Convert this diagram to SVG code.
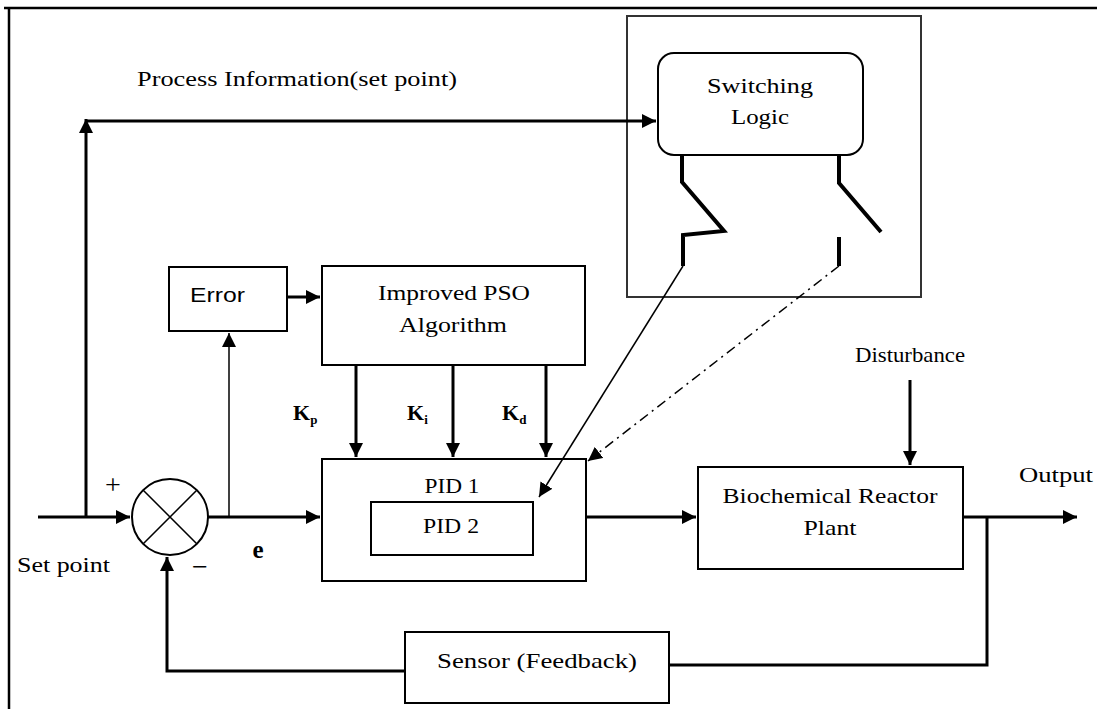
<svg xmlns="http://www.w3.org/2000/svg" width="1097" height="709" viewBox="0 0 1097 709">
<defs>
<style>
.t{font-family:"Liberation Serif","Times New Roman",serif;font-size:22px;fill:#000}
.b{fill:#fff;stroke:#000;stroke-width:2}
.c{fill:none;stroke:#000;stroke-width:3}
.thin{fill:none;stroke:#000;stroke-width:1.5}
.sw{fill:none;stroke:#000;stroke-width:4}
</style>
<marker id="ah" viewBox="0 0 10 10" refX="10" refY="5" markerWidth="14" markerHeight="14" markerUnits="userSpaceOnUse" orient="auto">
<path d="M0,0 L10,5 L0,10 z" fill="#000"/>
</marker>
</defs>
<rect width="1097" height="709" fill="#fff"/>
<!-- frame -->
<path d="M4,8 H1097 M9,8 V709" fill="none" stroke="#000" stroke-width="2.5"/>

<g id="switch-box">
<rect x="627" y="16" width="294" height="281" fill="none" stroke="#333" stroke-width="2"/>
</g>
<g id="switching-logic">
<rect x="658" y="53" width="205" height="102" rx="16" class="b" stroke="#333"/>
<text class="t" x="760" y="93" text-anchor="middle" textLength="106" lengthAdjust="spacingAndGlyphs">Switching</text>
<text class="t" x="760" y="124" text-anchor="middle" textLength="58" lengthAdjust="spacingAndGlyphs">Logic</text>
</g>
<g id="switches">
<path class="sw" d="M682,155 V182 L724,231 L683,235 V266"/>
<path class="sw" d="M839,155 V183 L881,232"/>
<path class="sw" d="M839,237 V266"/>
</g>
<g id="error">
<rect x="169" y="267" width="118" height="64" class="b"/>
<text x="190" y="302" font-family="Liberation Sans, Arial, sans-serif" font-size="20" textLength="55" lengthAdjust="spacingAndGlyphs">Error</text>
</g>
<g id="pso">
<rect x="322" y="266" width="263" height="99" class="b"/>
<text class="t" x="454" y="300" text-anchor="middle" textLength="152" lengthAdjust="spacingAndGlyphs">Improved PSO</text>
<text class="t" x="453" y="332" text-anchor="middle" textLength="108" lengthAdjust="spacingAndGlyphs">Algorithm</text>
</g>
<g id="pid1">
<rect x="322" y="459" width="264" height="122" class="b"/>
<text class="t" x="452" y="493" text-anchor="middle" textLength="55" lengthAdjust="spacingAndGlyphs">PID 1</text>
</g>
<g id="pid2">
<rect x="371" y="502" width="162" height="53" class="b"/>
<text class="t" x="451" y="533" text-anchor="middle" textLength="56" lengthAdjust="spacingAndGlyphs">PID 2</text>
</g>
<g id="plant">
<rect x="698" y="467" width="265" height="102" class="b"/>
<text class="t" x="830" y="503" text-anchor="middle" textLength="215" lengthAdjust="spacingAndGlyphs">Biochemical Reactor</text>
<text class="t" x="830" y="535" text-anchor="middle" textLength="53" lengthAdjust="spacingAndGlyphs">Plant</text>
</g>
<g id="sensor">
<rect x="405" y="632" width="264" height="71" class="b"/>
<text class="t" x="537" y="668" text-anchor="middle" textLength="200" lengthAdjust="spacingAndGlyphs">Sensor (Feedback)</text>
</g>
<g id="sum">
<circle cx="170" cy="517" r="38" fill="#fff" stroke="#000" stroke-width="2"/>
<path d="M143,490 L197,544 M197,490 L143,544" stroke="#000" stroke-width="1.5"/>
</g>

<g id="connectors">
<path class="c" d="M38,517 H130" marker-end="url(#ah)"/>
<path class="c" d="M86,517 V119" marker-end="url(#ah)"/>
<path class="c" d="M86,121 H656" marker-end="url(#ah)"/>
<path class="c" d="M208,517 H320" marker-end="url(#ah)"/>
<path class="thin" d="M229,517 V333" marker-end="url(#ah)" stroke-width="2"/>
<path class="c" d="M287,297 H320" marker-end="url(#ah)"/>
<path class="c" d="M356,365 V457" marker-end="url(#ah)"/>
<path class="c" d="M453,365 V457" marker-end="url(#ah)"/>
<path class="c" d="M546,365 V457" marker-end="url(#ah)"/>
<path class="c" d="M586,517 H696" marker-end="url(#ah)"/>
<path class="c" d="M910,380 V465" marker-end="url(#ah)"/>
<path class="c" d="M963,517 H1077" marker-end="url(#ah)"/>
<path class="c" d="M987,517 V665 H669"/>
<path class="c" d="M405,671 H167 V557" marker-end="url(#ah)"/>
<path class="thin" d="M683,266 L539,497" marker-end="url(#ah)"/>
<path class="thin" d="M839,266 L588,461" stroke-dasharray="10,5,2,5" marker-end="url(#ah)"/>
</g>

<g id="labels">
<text class="t" x="137" y="86" textLength="320" lengthAdjust="spacingAndGlyphs">Process Information(set point)</text>
<text class="t" x="910" y="362" text-anchor="middle" textLength="110" lengthAdjust="spacingAndGlyphs">Disturbance</text>
<text class="t" x="1019" y="482" textLength="74" lengthAdjust="spacingAndGlyphs">Output</text>
<text class="t" x="17" y="572" textLength="93" lengthAdjust="spacingAndGlyphs">Set point</text>
<text class="t" x="113" y="494" text-anchor="middle" style="font-size:28px">+</text>
<text class="t" x="200" y="576" text-anchor="middle" style="font-size:28px">−</text>
<text class="t" x="258" y="558" text-anchor="middle" font-weight="bold" style="font-size:25px">e</text>
<text class="t" x="293" y="420" font-weight="bold">K<tspan font-size="13" dy="4">p</tspan></text>
<text class="t" x="407" y="420" font-weight="bold">K<tspan font-size="13" dy="4">i</tspan></text>
<text class="t" x="502" y="420" font-weight="bold">K<tspan font-size="13" dy="4">d</tspan></text>
</g>
</svg>
